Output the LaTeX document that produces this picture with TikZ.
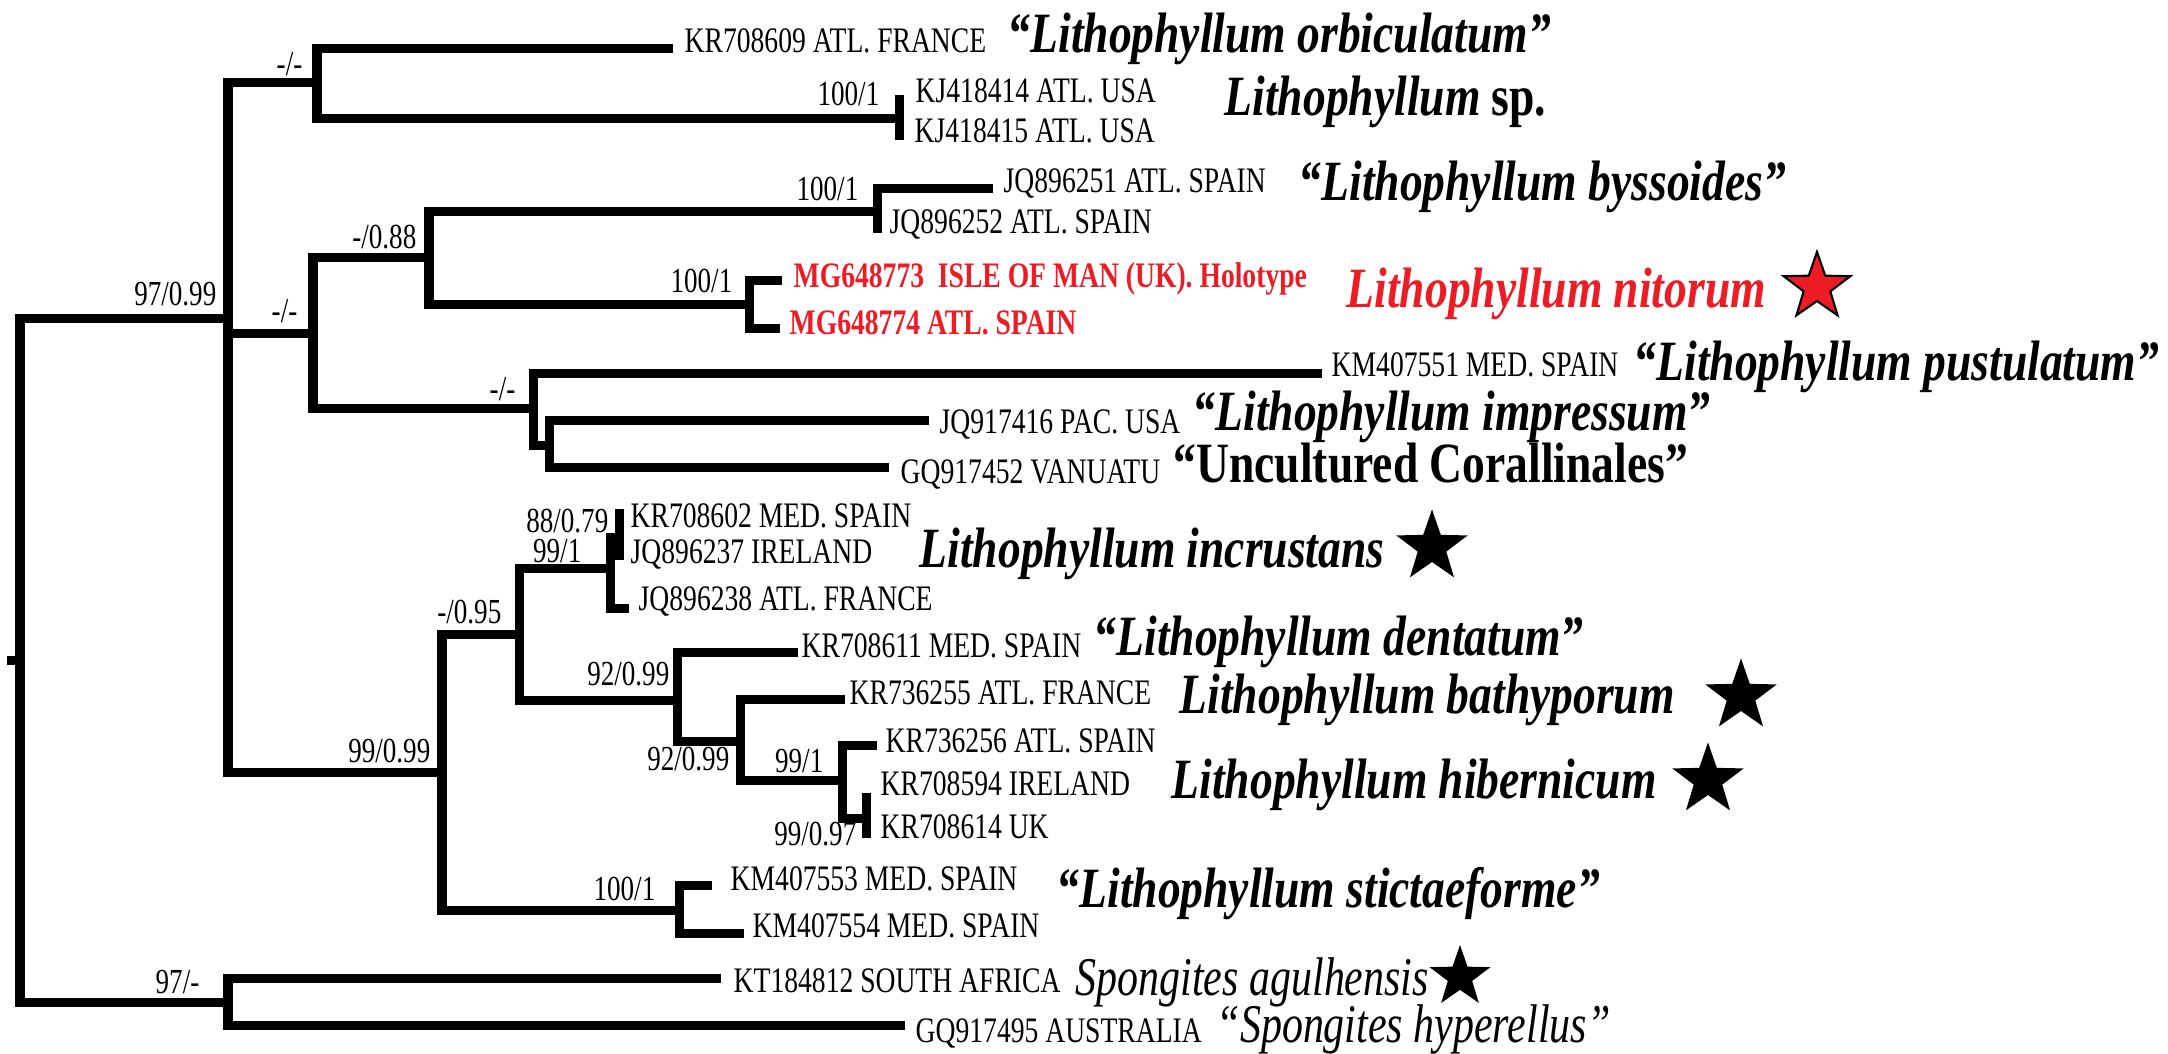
\documentclass[tikz,border=0pt]{standalone}
\usepackage{fontspec}
\setmainfont{Liberation Serif}[FakeStretch=0.77]
\newfontfamily\taxfont{Liberation Serif}[FakeStretch=0.80]
\usetikzlibrary{shapes.geometric}
\definecolor{nitred}{RGB}{237,28,36}

\begin{document}
\begin{tikzpicture}[x=0.01cm, y=-0.01cm,
    branch/.style={line width=0.09cm, line join=miter},
    acc/.style={anchor=base west, inner sep=0pt, font=\fontsize{10.2}{12}\selectfont},
    holo/.style={acc, text=nitred, font=\fontsize{10.2}{12}\selectfont\bfseries},
    taxon/.style={anchor=base west, inner sep=0pt, font=\taxfont\fontsize{16.2}{18}\selectfont\bfseries\itshape},
    spong/.style={taxon, font=\fontsize{15.5}{18}\selectfont\itshape},
    supp/.style={anchor=base east, inner sep=0pt, font=\fontsize{10}{12}\selectfont},
    typestar/.style={star, star points=5, star point ratio=2.5, minimum size=0.75cm, inner sep=0pt, fill=black}]
    \useasboundingbox (0,0) rectangle (2168,1053);

    % internal nodes
    \coordinate (base) at (7,660);
    \coordinate (R) at (20,660);
    \coordinate (A) at (228,318);
    \coordinate (B) at (317,82);
    \coordinate (KJ) at (899,118);
    \coordinate (C) at (313,333);
    \coordinate (D) at (429,257);
    \coordinate (BY) at (877,211);
    \coordinate (NI) at (749,304);
    \coordinate (E) at (533,408);
    \coordinate (F) at (549,445);
    \coordinate (G) at (442,772);
    \coordinate (H) at (519,634);
    \coordinate (I) at (610,568);
    \coordinate (J) at (619,537);
    \coordinate (K) at (677,700);
    \coordinate (L) at (740,741);
    \coordinate (M) at (842,780);
    \coordinate (N) at (866,818);
    \coordinate (S) at (679,910);
    \coordinate (T) at (228,1002);

    % tips
    \coordinate (KR708609) at (673,48);
    \coordinate (KJ418414) at (899,95);
    \coordinate (KJ418415) at (899,140);
    \coordinate (JQ896251) at (993,188);
    \coordinate (JQ896252) at (877,233);
    \coordinate (MG648773) at (782,280);
    \coordinate (MG648774) at (780,328);
    \coordinate (KM407551) at (1322,373);
    \coordinate (JQ917416) at (929,420);
    \coordinate (GQ917452) at (889,467);
    \coordinate (KR708602) at (624,513);
    \coordinate (JQ896237) at (619,560);
    \coordinate (JQ896238) at (629,608);
    \coordinate (KR708611) at (798,652);
    \coordinate (KR736255) at (845,699);
    \coordinate (KR736256) at (877,745);
    \coordinate (KR708594) at (866,793);
    \coordinate (KR708614) at (866,838);
    \coordinate (KM407553) at (712,885);
    \coordinate (KM407554) at (744,933);
    \coordinate (KT184812) at (721,978);
    \coordinate (GQ917495) at (905,1025);

    % branches
    \foreach \p/\c in {R/A, R/T, A/B, A/C, A/G, B/KR708609, B/KJ, C/D, C/E, D/BY, D/NI,
        BY/JQ896251, NI/MG648773, NI/MG648774, E/KM407551, E/F, F/JQ917416, F/GQ917452,
        G/H, G/S, H/I, H/K, I/J, I/JQ896238, J/KR708602, K/KR708611, K/L, L/KR736255,
        L/M, M/KR736256, M/N, S/KM407553, S/KM407554, T/KT184812, T/GQ917495}
        \draw[branch] (\p) |- (\c);
    \foreach \p/\c in {base/R, KJ/KJ418414, KJ/KJ418415, BY/JQ896252, J/JQ896237,
        N/KR708594, N/KR708614}
        \draw[branch] (\p) -- (\c);

    % support values
    \node[supp] (sA) at (217,305) {97/0.99};
    \node[supp] (sB) at (303,75) {-/-};
    \node[supp] (sKJ) at (880,105) {100/1};
    \node[supp] (sC) at (298,322) {-/-};
    \node[supp] (sD) at (417,248) {-/0.88};
    \node[supp] (sBY) at (859,200) {100/1};
    \node[supp] (sNI) at (733,292) {100/1};
    \node[supp] (sE) at (516,400) {-/-};
    \node[supp] (sJ) at (609,532) {88/0.79};
    \node[supp] (sI) at (582,562) {99/1};
    \node[supp] (sH) at (502,623) {-/0.95};
    \node[supp] (sK) at (670,685) {92/0.99};
    \node[supp] (sL) at (730,770) {92/0.99};
    \node[supp] (sM) at (824,772) {99/1};
    \node[supp] (sN) at (857,845) {99/0.97};
    \node[supp] (sG) at (431,762) {99/0.99};
    \node[supp] (sS) at (656,900) {100/1};
    \node[supp] (sT) at (200,993) {97/-};

    % accession labels
    \node[acc] (lKR708609) at (684,52) {KR708609 ATL. FRANCE};
    \node[acc] (lKJ418414) at (915,102) {KJ418414 ATL. USA};
    \node[acc] (lKJ418415) at (914,142) {KJ418415 ATL. USA};
    \node[acc] (lJQ896251) at (1003,192) {JQ896251 ATL. SPAIN};
    \node[acc] (lJQ896252) at (889,233) {JQ896252 ATL. SPAIN};
    \node[holo] (lMG648773) at (793,287) {MG648773\ \ ISLE OF MAN (UK). Holotype};
    \node[holo] (lMG648774) at (789,334) {MG648774 ATL. SPAIN};
    \node[acc] (lKM407551) at (1331,376) {KM407551 MED. SPAIN};
    \node[acc] (lJQ917416) at (939,433) {JQ917416 PAC. USA};
    \node[acc] (lGQ917452) at (900,483) {GQ917452 VANUATU};
    \node[acc] (lKR708602) at (630,527) {KR708602 MED. SPAIN};
    \node[acc] (lJQ896237) at (630,563) {JQ896237 IRELAND};
    \node[acc] (lJQ896238) at (638,610) {JQ896238 ATL. FRANCE};
    \node[acc] (lKR708611) at (801,657) {KR708611 MED. SPAIN};
    \node[acc] (lKR736255) at (849,704) {KR736255 ATL. FRANCE};
    \node[acc] (lKR736256) at (885,752) {KR736256 ATL. SPAIN};
    \node[acc] (lKR708594) at (880,795) {KR708594 IRELAND};
    \node[acc] (lKR708614) at (880,838) {KR708614 UK};
    \node[acc] (lKM407553) at (730,890) {KM407553 MED. SPAIN};
    \node[acc] (lKM407554) at (752,937) {KM407554 MED. SPAIN};
    \node[acc] (lKT184812) at (733,992) {KT184812 SOUTH AFRICA};
    \node[acc] (lGQ917495) at (915,1042) {GQ917495 AUSTRALIA};

    % species names
    \node[taxon] (orb) at (1007,52) {“Lithophyllum orbiculatum”};
    \node[taxon] (lsp) at (1224,115) {Lithophyllum \upshape sp.};
    \node[taxon] (bys) at (1298,200) {“Lithophyllum byssoides”};
    \node[taxon, text=nitred] (nit) at (1346,307) {Lithophyllum nitorum};
    \node[taxon] (pus) at (1633,380) {“Lithophyllum pustulatum”};
    \node[taxon] (imp) at (1192,430) {“Lithophyllum impressum”};
    \node[taxon] (unc) at (1173,482) {\upshape “Uncultured Corallinales”};
    \node[taxon] (inc) at (919,567) {Lithophyllum incrustans};
    \node[taxon] (den) at (1093,655) {“Lithophyllum dentatum”};
    \node[taxon] (bat) at (1179,713) {Lithophyllum bathyporum};
    \node[taxon] (hib) at (1171,798) {Lithophyllum hibernicum};
    \node[taxon] (sti) at (1056,907) {“Lithophyllum stictaeforme”};
    \node[spong] (agu) at (1075,995) {Spongites agulhensis};
    \node[spong] (hyp) at (1216,1042) {“Spongites hyperellus”};

    % type stars
    \node[typestar, minimum size=0.7cm, fill=nitred, draw=black, line width=0.6pt] (snit) at (1817,287) {};
    \node[typestar] (sinc) at (1432,547) {};
    \node[typestar] (sbat) at (1741,696) {};
    \node[typestar] (shib) at (1708,780) {};
    \node[typestar, minimum size=0.64cm] (sagu) at (1460,977) {};
\end{tikzpicture}
\end{document}
